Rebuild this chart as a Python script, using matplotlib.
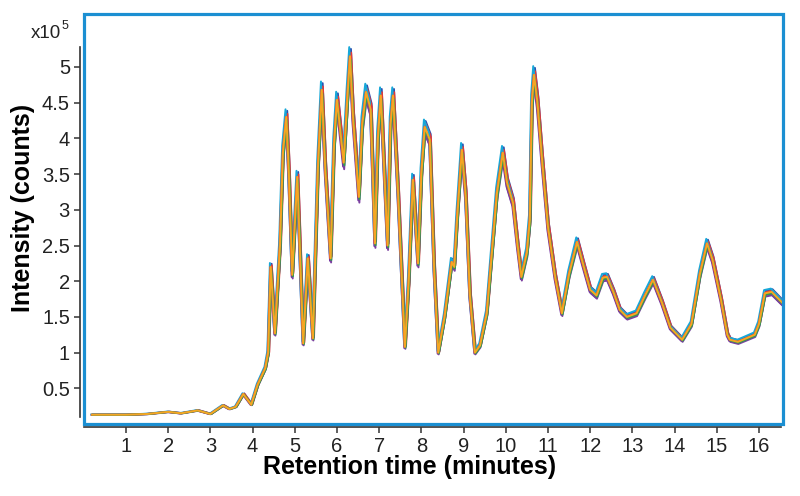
import numpy as np
import matplotlib
matplotlib.use('Agg')
import matplotlib.pyplot as plt
from matplotlib.patches import Rectangle

plt.rcParams['font.family'] = ['Liberation Sans', 'DejaVu Sans']

# retention time (minutes) and intensity (x10^5 counts)
times = [0.2, 0.5, 1.0, 1.5, 2.0, 2.3, 2.7, 3.0, 3.3, 3.45, 3.6, 3.78, 3.97, 4.12, 4.3, 4.37,
         4.43, 4.53, 4.65, 4.72, 4.8, 4.86, 4.94, 5.06, 5.2, 5.31, 5.43, 5.55, 5.64, 5.72,
         5.85, 5.93, 6.0, 6.16, 6.25, 6.31, 6.38, 6.52, 6.6, 6.69, 6.8, 6.9, 6.97, 7.04,
         7.2, 7.27, 7.33, 7.45, 7.61, 7.7, 7.8, 7.92, 8.0, 8.08, 8.2, 8.3, 8.4, 8.55, 8.72,
         8.78, 8.85, 8.96, 9.05, 9.15, 9.27, 9.39, 9.55, 9.7, 9.79, 9.93, 10.03, 10.17,
         10.28, 10.37, 10.5, 10.57, 10.62, 10.67, 10.75, 10.86, 11.0, 11.17, 11.33, 11.5,
         11.69, 11.85, 12.0, 12.15, 12.3, 12.4, 12.55, 12.7, 12.87, 13.1, 13.3, 13.49, 13.7,
         13.9, 14.18, 14.4, 14.6, 14.77, 14.9, 15.1, 15.25, 15.31, 15.5, 15.7, 15.9, 16.0,
         16.14, 16.3, 16.55]
intensity = [0.13, 0.13, 0.13, 0.14, 0.17, 0.15, 0.19, 0.14, 0.26, 0.21, 0.24, 0.42, 0.27,
             0.55, 0.78, 1.0, 2.2, 1.27, 2.5, 3.8, 4.3, 3.5, 2.09, 3.46, 1.13, 2.32, 1.2,
             3.6, 4.68, 3.6, 2.32, 3.9, 4.54, 3.66, 4.6, 5.15, 4.3, 3.18, 4.2, 4.65, 4.4,
             2.53, 4.0, 4.6, 2.5, 4.2, 4.6, 3.2, 1.08, 2.0, 3.42, 2.25, 3.5, 4.16, 3.98,
             2.2, 1.0, 1.5, 2.27, 2.2, 2.9, 3.84, 3.2, 1.8, 1.0, 1.1, 1.55, 2.6, 3.23, 3.8,
             3.38, 3.1, 2.5, 2.06, 2.4, 2.86, 4.5, 4.89, 4.5, 3.7, 2.76, 2.06, 1.55, 2.1,
             2.55, 2.2, 1.88, 1.8, 2.05, 2.06, 1.85, 1.6, 1.5, 1.55, 1.8, 2.02, 1.7, 1.35,
             1.18, 1.4, 2.1, 2.53, 2.3, 1.74, 1.25, 1.18, 1.15, 1.2, 1.25, 1.4, 1.83, 1.85, 1.7]

# the replicate runs: small retention shift (min) and response factor for each
run_shift = [0.02, -0.015, 0.025, -0.02, 0.01, -0.01, 0.015, 0.0]
run_scale = [1.02, 0.985, 1.01, 1.025, 0.975, 1.0, 0.99, 1.0]
run_colors = ['#2b4fb0', '#6f2f9f', '#e53935', '#17a8d8', '#7b3fa0', '#e8562a', '#2e9e4f', '#f5a623']

x_ticks = list(range(1, 17))
y_ticks = [0.5, 1, 1.5, 2, 2.5, 3, 3.5, 4, 4.5, 5]

fig = plt.figure(figsize=(8, 4.96), dpi=100)
ax = fig.add_axes([83.8 / 800, 1 - 424 / 496, (783 - 83.8) / 800, 410 / 496])

t = np.array(times)
y = np.array(intensity)
for s, k, c in zip(run_shift, run_scale, run_colors):
    ax.plot(t + s, y * k, color=c, lw=1.4, solid_joinstyle='round')

ax.set_xlim(0, (783 - 83.8) / 42.2)
ax.set_ylim(0, 410 / 71.4)

# blue frame around the plot area
ax.add_patch(Rectangle((0, 0), 1, 1, transform=ax.transAxes, fill=False,
                       edgecolor='#1b8fd2', lw=2.3, clip_on=False, zorder=5))

ax.spines['top'].set_visible(False)
ax.spines['right'].set_visible(False)
ax.spines['left'].set_position(('outward', 3))
ax.spines['bottom'].set_position(('outward', 2))
ax.spines['left'].set_bounds(0.1, 5.28)
ax.spines['bottom'].set_bounds(0, 16.52)
for sp in ['left', 'bottom']:
    ax.spines[sp].set_color('#333333')
    ax.spines[sp].set_linewidth(1.2)

ax.set_xticks(x_ticks)
ax.set_xticklabels([str(v) for v in x_ticks])
ax.set_yticks(y_ticks)
ax.set_yticklabels([('%g' % v) for v in y_ticks])
ax.tick_params(axis='both', direction='out', length=4, width=1.1, color='#333333',
               labelsize=14.5, labelcolor='#222222', pad=3)

ax.set_xlabel('Retention time (minutes)', fontsize=18, fontweight='bold', labelpad=2)
ax.xaxis.set_label_coords((410 - 83.8) / 699.2, -0.075)
ax.set_ylabel('Intensity (counts)', fontsize=18, fontweight='bold', labelpad=6)
ax.yaxis.set_label_coords(-0.07, (424 - 208) / 410)

fig.text(31 / 800, 1 - 33 / 496, 'x10', fontsize=13.5, color='#222222', va='center', ha='left')
fig.text(62 / 800, 1 - 26 / 496, '5', fontsize=9, color='#222222', va='center', ha='left')

fig.savefig('out.png', dpi=100)
